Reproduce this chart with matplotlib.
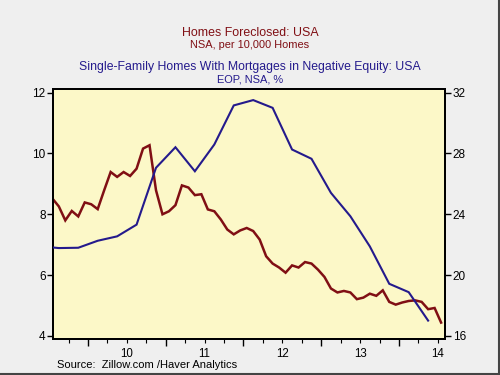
import matplotlib
matplotlib.use("Agg")
import matplotlib.pyplot as plt
from matplotlib.ticker import FixedLocator, FixedFormatter
from matplotlib.lines import Line2D

plt.rcParams['font.family'] = ['Liberation Sans', 'DejaVu Sans']

# Homes foreclosed (monthly, Jul 2009 - Jul 2014), per 10,000 homes
foreclosed_start = (2009, 7)
foreclosed = [8.52, 8.26, 7.80, 8.11, 7.93, 8.39,
              8.33, 8.17, 8.79, 9.39, 9.23, 9.39, 9.26, 9.50, 10.16, 10.27, 8.79, 8.00,
              8.10, 8.30, 8.95, 8.88, 8.63, 8.66, 8.16, 8.10, 7.83, 7.50, 7.34, 7.47,
              7.55, 7.45, 7.17, 6.62, 6.38, 6.25, 6.08, 6.32, 6.25, 6.43, 6.38, 6.18,
              5.94, 5.56, 5.43, 5.48, 5.43, 5.21, 5.26, 5.39, 5.32, 5.50, 5.12, 5.03,
              5.10, 5.15, 5.17, 5.12, 4.88, 4.92, 4.44]

# Negative equity share (quarterly, Q2 2009 - Q2 2014), %
neg_equity_start = (2009, 2)
neg_equity = [21.9, 21.78, 21.8, 22.26, 22.55, 23.32, 27.06, 28.41, 26.83, 28.59,
              31.16, 31.51, 31.0, 28.26, 27.65, 25.41, 23.87, 21.89, 19.43, 18.88, 17.01]

year_labels = ['10', '11', '12', '13', '14']
year_label_pos = [2010.5, 2011.5, 2012.5, 2013.5, 2014.5]
left_ticks = [4, 6, 8, 10, 12]
right_ticks = [16, 20, 24, 28, 32]

x_m = [foreclosed_start[0] + (foreclosed_start[1] - 1 + i + 0.5) / 12.0 for i in range(len(foreclosed))]
x_q = [neg_equity_start[0] + (neg_equity_start[1] - 1 + i + 0.5) / 4.0 for i in range(len(neg_equity))]

RED = '#800f14'
BLUE = '#241a8c'

fig = plt.figure(figsize=(5, 3.75), dpi=100, facecolor='#efefef')
ax = fig.add_axes([0.1066, 0.096, 0.7834, 0.6667])
ax.set_facecolor('#fcf8c8')
ax2 = ax.twinx()

ax.plot(x_m, foreclosed, color=RED, lw=1.8, zorder=3, solid_joinstyle='miter')
ax2.plot(x_q, neg_equity, color=BLUE, lw=1.5, zorder=3, solid_joinstyle='miter')

ax.set_xlim(2009.554, 2014.592)
ax.set_ylim(3.9, 12.12)
ax2.set_ylim(15.8, 32.24)

ax.set_yticks(left_ticks)
ax.set_yticklabels([str(t) for t in left_ticks])
ax2.set_yticks(right_ticks)
ax2.set_yticklabels([str(t) for t in right_ticks])

ax.xaxis.set_major_locator(FixedLocator([2010, 2011, 2012, 2013, 2014]))
ax.xaxis.set_major_formatter(FixedFormatter(['', '', '', '', '']))
minor = [y + q for y in range(2009, 2015) for q in (0.25, 0.5, 0.75)]
ax.xaxis.set_minor_locator(FixedLocator(minor))
minor_labels = []
for m in minor:
    if m in year_label_pos:
        minor_labels.append(year_labels[year_label_pos.index(m)])
    else:
        minor_labels.append('')
ax.xaxis.set_minor_formatter(FixedFormatter(minor_labels))

ax.tick_params(axis='x', which='major', direction='out', length=5, width=1, labelsize=8.3)
ax.tick_params(axis='x', which='minor', direction='out', length=3, width=0.8, labelsize=8.3, pad=3.5)
ax.tick_params(axis='y', which='major', direction='out', length=4, width=1, labelsize=8.5, pad=1.5)
ax2.tick_params(axis='y', which='major', direction='out', length=4, width=1, labelsize=8.5, pad=1.5)

for a in (ax, ax2):
    for s in a.spines.values():
        s.set_linewidth(1.4)
        s.set_color('black')

fig.text(0.5, 1 - 32.5 / 375, 'Homes Foreclosed: USA', color=RED, ha='center', va='center', fontsize=8.9)
fig.text(0.5, 1 - 44.7 / 375, 'NSA, per 10,000 Homes', color=RED, ha='center', va='center', fontsize=7.9)
fig.text(0.5, 1 - 67 / 375, 'Single-Family Homes With Mortgages in Negative Equity: USA',
         color=BLUE, ha='center', va='center', fontsize=8.8)
fig.text(0.5, 1 - 79 / 375, 'EOP, NSA, %', color=BLUE, ha='center', va='center', fontsize=7.9)

fig.text(57 / 500, 1 - 364.5 / 375, 'Source:  Zillow.com /Haver Analytics', color='black',
         ha='left', va='center', fontsize=8.0)

# figure border lines (bottom and right)
fig.add_artist(Line2D([0, 1], [0.004, 0.004], transform=fig.transFigure, color='#444444', lw=1.5))
fig.add_artist(Line2D([0.997, 0.997], [0, 1], transform=fig.transFigure, color='#444444', lw=1.5))

fig.savefig('out.png', dpi=100, facecolor=fig.get_facecolor())
